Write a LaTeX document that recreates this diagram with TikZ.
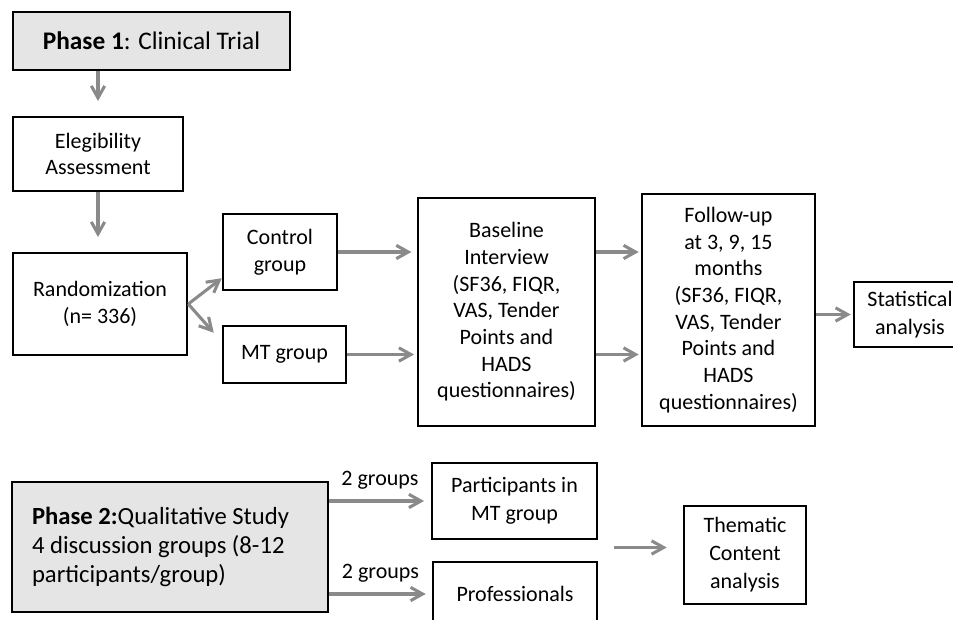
\documentclass[tikz,border=0pt]{standalone}
\usepackage{fontspec}
\setmainfont{Carlito}
\usetikzlibrary{arrows.meta,calc}
\definecolor{arrowgray}{RGB}{138,138,138}
\definecolor{phasegray}{RGB}{229,229,229}

\begin{document}
\begin{tikzpicture}[
 x=0.75pt, y=-0.75pt,
 >={Straight Barb[length=9pt,width=10pt]},
 align=center,
 font=\fontsize{16.5}{20}\selectfont,
 box/.style={draw=black,rectangle,line width=1.9pt,inner sep=0pt},
 phase/.style={box,fill=phasegray},
 lower/.style={font=\fontsize{16.5}{21}\selectfont},
 arr/.style={->,draw=arrowgray,line width=2.3pt}
]
\useasboundingbox (0,0) rectangle (953,620);
\clip (0,0) rectangle (953,620);
% phase 1
\node (phase-one) [phase,font=\fontsize{19}{22}\selectfont,minimum width=207.75pt,minimum height=43.5pt] at (151.5,41) {\textbf{Phase 1}: Clinical Trial};
\node (elig-box) [box,minimum width=127.5pt,minimum height=55.5pt] at (98,154) {Elegibility\\Assessment};
\node (rand-box) [box,minimum width=130.5pt,minimum height=76.5pt] at (100,304) {Randomization\\(n= 336)};
\node (control-box) [box,minimum width=85.5pt,minimum height=57pt] at (280,252) {Control\\group};
\node (mt-box) [box,minimum width=92.25pt,minimum height=42.75pt] at (284.5,354.5) {MT group};
\node (baseline-box) [box,minimum width=132.75pt,minimum height=171pt] at (506.5,312) {Baseline\\Interview\\(SF36, FIQR,\\VAS, Tender\\Points and\\HADS\\questionnaires)};
\node (followup-box) [box,minimum width=129.75pt,minimum height=174pt] at (728.5,310) {Follow-up\\at 3, 9, 15\\months\\(SF36, FIQR,\\VAS, Tender\\Points and\\HADS\\questionnaires)};
\node (stats-box) [box,lower,minimum width=84pt,minimum height=48.75pt] at (910,314.5) {Statistical\\analysis};
\draw[arr,shorten >=11pt] (phase-one.south -| elig-box.north) -- (elig-box.north);
\draw[arr,shorten >=11pt] (elig-box.south) -- (elig-box.south |- rand-box.north);
\draw[arr] (rand-box.east) -- ([yshift=9.75pt]control-box.south west);
\draw[arr] (rand-box.east) -- ([xshift=-6pt,yshift=-6pt]mt-box.north west);
\draw[arr,shorten >=4pt] (control-box.east) -- (control-box.east -| baseline-box.west);
\draw[arr,shorten >=2pt] (mt-box.east) -- (mt-box.east -| baseline-box.west);
\draw[arr,shorten >=1.5pt] (baseline-box.east |- control-box.east) -- (followup-box.west |- control-box.east);
\draw[arr,shorten >=1.5pt] (baseline-box.east |- mt-box.east) -- (followup-box.west |- mt-box.east);
\draw[arr,shorten >=1.5pt] (followup-box.east |- stats-box.west) -- (stats-box.west);
% phase 2
\node (phase-two) [phase,font=\fontsize{18.5}{21.5}\selectfont,align=flush left,text width=207pt,inner xsep=15pt,minimum height=97.5pt] at (170,547) {\textbf{Phase 2:}Qualitative Study\\4 discussion groups (8-12\\participants/group)};
\node (mt-part) [box,lower,minimum width=123.75pt,minimum height=57pt] at (514.5,501) {Participants in\\MT group};
\node (prof-box) [box,lower,minimum width=123pt,minimum height=48pt] at (515,594) {Professionals};
\node (thematic-box) [box,lower,minimum width=91.5pt,minimum height=73.5pt] at (745,555) {Thematic\\Content\\analysis};
\coordinate (analysis-in) at ($(mt-part.east)!.5!(prof-box.east)$);
\draw[arr,shorten >=5pt] (phase-two.east |- mt-part.west) -- node [above=4pt,text=black] {2 groups} (mt-part.west);
\draw[arr,shorten >=4.5pt] (phase-two.east |- prof-box.west) -- node [above=4pt,text=black] {2 groups} (prof-box.west);
\draw[arr,shorten <=12pt,shorten >=12pt] (analysis-in) -- (analysis-in -| thematic-box.west);
\end{tikzpicture}
\end{document}
